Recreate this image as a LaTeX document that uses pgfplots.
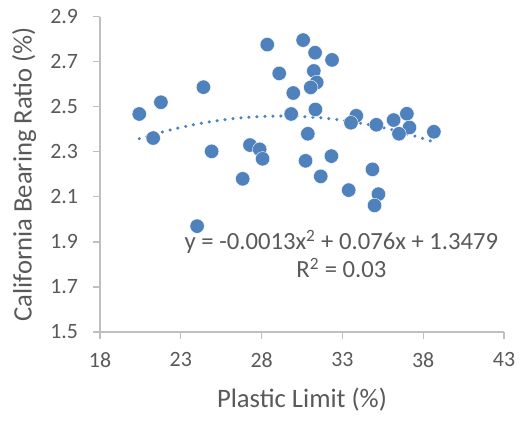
\documentclass[border=0pt]{standalone}
\usepackage{fontspec}
\setmainfont{Carlito}
\usepackage{pgfplots}
\pgfplotsset{compat=1.18}
\definecolor{ptblue}{RGB}{79,129,189}
\definecolor{axgray}{RGB}{191,191,191}
\definecolor{txtgray}{RGB}{89,89,89}
\begin{document}
\begin{tikzpicture}
\begin{axis}[
  scale only axis,
  width=303pt, height=236.5pt,
  xmin=18, xmax=43, ymin=1.5, ymax=2.9,
  xtick={18,23,28,33,38,43},
  ytick={1.5,1.7,1.9,2.1,2.3,2.5,2.7,2.9},
  axis x line*=bottom, axis y line*=left,
  axis line style={draw=axgray, line width=0.9pt, -},
  tick align=outside,
  major tick length=5pt,
  tick style={draw=axgray, line width=0.9pt},
  /pgf/number format/assume math mode=true,
  yticklabel style={/pgf/number format/fixed, /pgf/number format/fixed zerofill, /pgf/number format/precision=1},
  ticklabel style={font=\fontsize{16.4}{19}\selectfont, text=txtgray},
  xticklabel style={yshift=-7pt},
  yticklabel style={xshift=-8pt},
  xlabel={Plastic Limit (\%)},
  ylabel={California Bearing Ratio (\%)},
  label style={font=\fontsize{20}{24}\selectfont, text=txtgray},
  xlabel style={at={(axis description cs:0.5,0)}, anchor=center, yshift=-51pt},
  ylabel style={at={(axis description cs:-0.188,0.5)}, anchor=center},
  clip=false,
]
\addplot[only marks, mark=*, mark size=5.4pt, mark options={fill=ptblue, draw=white, line width=0.3pt}] coordinates {
(20.43,2.468) (21.77,2.520) (21.29,2.361) (24.40,2.587) (24.91,2.302)
(24.01,1.970) (26.83,2.180) (27.28,2.330) (27.88,2.311) (28.06,2.269)
(28.35,2.776) (29.09,2.648) (29.96,2.561) (29.83,2.468) (30.57,2.796)
(31.31,2.740) (32.36,2.708) (31.23,2.659) (31.41,2.608) (31.04,2.586)
(31.33,2.488) (30.86,2.380) (30.72,2.260) (32.32,2.281) (31.66,2.191)
(33.86,2.460) (33.53,2.429) (35.10,2.420) (36.17,2.441) (36.99,2.469)
(37.15,2.408) (36.50,2.380) (38.66,2.389) (34.86,2.222) (33.39,2.130)
(35.23,2.112) (34.99,2.062)
};
\addplot[ptblue, line width=2.6pt, line cap=round, dash pattern=on 0pt off 6pt, smooth] coordinates {
(20.43,2.3580) (21,2.3706) (22,2.3907) (23,2.4082) (24,2.4231) (25,2.4354)
(26,2.4451) (27,2.4522) (28,2.4567) (29,2.4586) (30,2.4579) (31,2.4546)
(32,2.4487) (33,2.4402) (34,2.4291) (35,2.4154) (36,2.3991) (37,2.3802)
(38,2.3587) (38.66,2.3431)
};
\node[align=center, text=txtgray, font=\fontsize{18.5}{21}\selectfont] at (axis cs:32.94,1.845)
  {y = -0.0013x\textsuperscript{2} + 0.076x + 1.3479\\R\textsuperscript{2} = 0.03};
\end{axis}
\pgfresetboundingbox
\path[use as bounding box] (-75pt,-66.75pt) rectangle (320.25pt,249pt);
\end{tikzpicture}
\end{document}
